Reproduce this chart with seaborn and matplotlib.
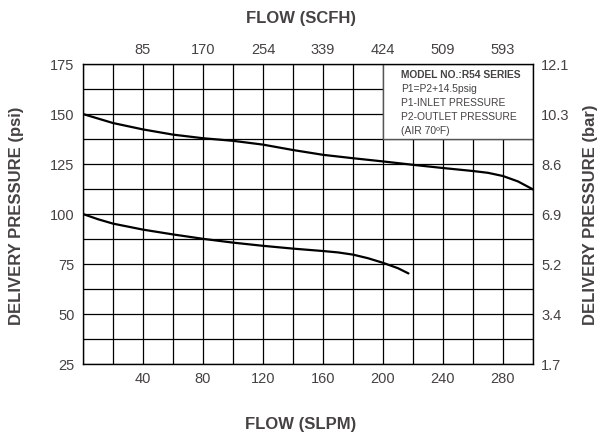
import numpy as np
import pandas as pd
import matplotlib
matplotlib.use("Agg")
import matplotlib.pyplot as plt
import seaborn as sns
from matplotlib.patches import Rectangle

# flow (SLPM) and delivery pressure (psi)
flow_high = [0, 20, 40, 60, 80, 100, 120, 140, 160, 180, 200, 220, 240, 260, 270, 280, 290, 300]
psi_high = [150, 145.5, 142.3, 139.7, 137.9, 136.6, 134.7, 132.0, 129.6, 127.9, 126.3, 124.6, 123.0, 121.5, 120.6, 119.0, 116.3, 112.3]
flow_low = [0, 10, 20, 40, 60, 80, 100, 120, 140, 160, 170, 180, 190, 200, 210, 217]
psi_low = [100, 97.4, 95.2, 92.2, 89.8, 87.6, 85.7, 84.1, 82.7, 81.5, 80.8, 79.7, 77.9, 75.6, 72.9, 70.3]

# tick labels
x_ticks = list(range(0, 301, 20))
slpm_labels = ["", "", "40", "", "80", "", "120", "", "160", "", "200", "", "240", "", "280", ""]
scfh_labels = ["", "", "85", "", "170", "", "254", "", "339", "", "424", "", "509", "", "593", ""]
y_ticks = list(np.arange(25, 175.1, 12.5))
psi_labels = ["25", "", "50", "", "75", "", "100", "", "125", "", "150", "", "175"]
bar_labels = ["1.7", "", "3.4", "", "5.2", "", "6.9", "", "8.6", "", "10.3", "", "12.1"]

note_title = "MODEL NO.:R54 SERIES"
note_lines = ["P1=P2+14.5psig", "P1-INLET PRESSURE", "P2-OUTLET PRESSURE", "(AIR 70ºF)"]

txt = "#454242"

sns.set_style("white")
plt.rcParams['font.family'] = ['Liberation Sans', 'DejaVu Sans']

fig = plt.figure(figsize=(6, 4.37), dpi=100)
ax = fig.add_axes([0.1383, 0.167, 0.75, 0.6865])

df = pd.concat([
    pd.DataFrame({"flow": flow_high, "psi": psi_high, "curve": "high"}),
    pd.DataFrame({"flow": flow_low, "psi": psi_low, "curve": "low"}),
])
sns.lineplot(data=df, x="flow", y="psi", units="curve", estimator=None,
             color="black", linewidth=1.6, ax=ax, zorder=3, sort=False)

ax.set_xlim(0, 300)
ax.set_ylim(25, 175)
ax.set_xticks(x_ticks)
ax.set_xticklabels(slpm_labels)
ax.set_yticks(y_ticks)
ax.set_yticklabels(psi_labels)
ax.set_xlabel("")
ax.set_ylabel("")
ax.grid(True, color="black", linewidth=0.9)
ax.set_axisbelow(True)
ax.tick_params(length=0, labelsize=10.5, colors=txt, pad=6)
for s in ax.spines.values():
    s.set_color("black")
    s.set_linewidth(1.0)

top = ax.twiny()
top.set_xlim(ax.get_xlim())
top.set_xticks(x_ticks)
top.set_xticklabels(scfh_labels)
top.tick_params(length=0, labelsize=10.5, colors=txt, pad=5)

right = ax.twinx()
right.set_ylim(ax.get_ylim())
right.set_yticks(y_ticks)
right.set_yticklabels(bar_labels)
right.tick_params(length=0, labelsize=10.5, colors=txt, pad=6)
for a in (top, right):
    for s in a.spines.values():
        s.set_visible(False)

# model note box
ax.add_patch(Rectangle((200, 137.5), 100, 37.5, facecolor="white",
                       edgecolor="#555555", linewidth=1.0, zorder=2))
ax.text(212, 169.5, note_title, fontsize=7.4, fontweight="bold",
        color=txt, va="center", zorder=4)
for i, line in enumerate(note_lines):
    ax.text(212, 162.4 - i * 6.9, line, fontsize=7.4, color=txt,
            va="center", zorder=4)

fig.text(301 / 600, 1 - 18.5 / 437, "FLOW (SCFH)", ha="center", va="center",
         fontsize=12, fontweight="bold", color=txt)
fig.text(301 / 600, 1 - 424.5 / 437, "FLOW (SLPM)", ha="center", va="center",
         fontsize=12, fontweight="bold", color=txt)
fig.text(17 / 600, 1 - 216 / 437, "DELIVERY PRESSURE (psi)", rotation=90, ha="center", va="center",
         fontsize=12, fontweight="bold", color=txt)
fig.text(591 / 600, 1 - 215 / 437, "DELIVERY PRESSURE (bar)", rotation=90, ha="center", va="center",
         fontsize=12, fontweight="bold", color=txt)

fig.savefig("out.png", dpi=100)
